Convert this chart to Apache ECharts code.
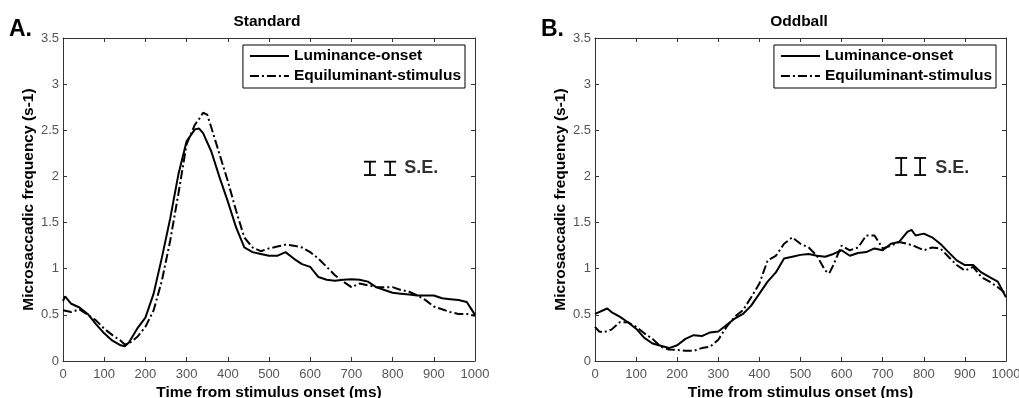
<!DOCTYPE html>
<html>
<head>
<meta charset="utf-8">
<script src="https://cdn.jsdelivr.net/npm/echarts@6/dist/echarts.min.js"></script>
<style>
  html, body { margin: 0; padding: 0; background: #fff; }
  #chart { width: 1019px; height: 398px; }
</style>
</head>
<body>
<div id="chart"></div>
<script>
// Standard condition (A)
var stdLumT = [0,5,20,40,60,80,100,120,140,150,160,180,200,220,240,260,280,300,320,330,340,360,380,400,420,440,460,480,500,520,540,560,580,600,620,640,660,680,700,720,740,760,780,800,820,840,860,880,900,920,940,960,980,990,1000];
var stdLumV = [0.65,0.70,0.62,0.58,0.51,0.40,0.30,0.22,0.17,0.16,0.20,0.35,0.47,0.73,1.12,1.54,2.02,2.38,2.51,2.52,2.47,2.27,1.99,1.73,1.45,1.23,1.18,1.16,1.14,1.14,1.18,1.11,1.05,1.02,0.91,0.88,0.87,0.88,0.885,0.88,0.86,0.80,0.77,0.74,0.73,0.72,0.71,0.71,0.71,0.68,0.67,0.66,0.64,0.57,0.50];
var stdEqT = [0,20,40,60,80,100,120,140,150,160,180,200,220,240,260,280,300,320,330,340,350,360,380,400,420,440,460,480,500,520,540,560,580,600,620,640,660,680,700,720,740,760,780,800,820,840,860,880,900,920,940,960,980,1000];
var stdEqV = [0.55,0.53,0.56,0.50,0.44,0.35,0.28,0.22,0.18,0.19,0.26,0.37,0.55,0.87,1.30,1.81,2.35,2.56,2.62,2.69,2.67,2.53,2.24,1.95,1.63,1.34,1.23,1.19,1.22,1.24,1.26,1.25,1.23,1.18,1.11,1.02,0.93,0.86,0.80,0.84,0.82,0.80,0.80,0.80,0.77,0.75,0.71,0.66,0.59,0.56,0.53,0.51,0.51,0.49];

// Oddball condition (B)
var oddLumT = [0,10,20,30,40,60,80,100,120,140,160,180,200,220,240,260,280,300,320,340,360,380,400,420,440,460,480,500,520,540,560,580,600,620,640,660,680,700,720,740,760,770,780,800,820,840,860,880,900,920,940,960,980,1000];
var oddLumV = [0.51,0.53,0.55,0.57,0.53,0.48,0.42,0.35,0.25,0.19,0.165,0.14,0.17,0.24,0.28,0.27,0.31,0.32,0.39,0.46,0.51,0.60,0.73,0.86,0.96,1.11,1.13,1.15,1.16,1.14,1.13,1.16,1.20,1.14,1.17,1.18,1.22,1.20,1.27,1.29,1.40,1.42,1.36,1.38,1.34,1.27,1.18,1.09,1.04,1.04,0.96,0.91,0.86,0.69];
var oddEqT = [0,10,20,40,60,80,100,120,140,160,180,200,220,240,260,280,300,320,340,360,380,400,420,440,460,480,500,520,540,560,570,580,600,620,640,660,680,700,720,740,760,780,800,820,840,860,880,900,920,940,960,980,1000];
var oddEqV = [0.37,0.32,0.31,0.34,0.42,0.42,0.37,0.30,0.24,0.155,0.125,0.12,0.11,0.11,0.14,0.155,0.23,0.37,0.48,0.55,0.69,0.84,1.09,1.14,1.27,1.34,1.27,1.23,1.14,0.98,0.95,1.04,1.25,1.20,1.23,1.36,1.36,1.22,1.25,1.29,1.27,1.24,1.20,1.23,1.22,1.13,1.04,0.98,1.02,0.91,0.86,0.80,0.73];

// S.E. markers: [x, low, high]
var seStd = [[745, 2.015, 2.16], [794, 2.015, 2.16]];
var seOdd = [[745, 2.015, 2.2], [791, 2.015, 2.2]];
var seLabelX = 828;
var seLabelY = 2.09;

var seriesNames = ['Luminance-onset', 'Equiluminant-stimulus'];
var font = 'Liberation Sans, Arial, sans-serif';

function zip(t, v) {
    return t.map(function (x, i) { return [x, v[i]]; });
}

function seRender(params, api) {
    var top = api.coord([api.value(0), api.value(2)]);
    var bot = api.coord([api.value(0), api.value(1)]);
    var st = { stroke: '#000', lineWidth: 1.8 };
    return {
        type: 'group',
        children: [
            { type: 'line', shape: { x1: top[0], y1: top[1], x2: bot[0], y2: bot[1] }, style: st },
            { type: 'line', shape: { x1: top[0] - 6, y1: top[1], x2: top[0] + 6, y2: top[1] }, style: st },
            { type: 'line', shape: { x1: bot[0] - 6, y1: bot[1], x2: bot[0] + 6, y2: bot[1] }, style: st }
        ]
    };
}

var grids = [
    { left: 63, top: 38, width: 412, height: 323, containLabel: false, outerBoundsMode: 'none' },
    { left: 595, top: 38, width: 411, height: 323, containLabel: false, outerBoundsMode: 'none' }
];

var tickLabel = { fontFamily: font, fontSize: 13, color: '#555' };
var nameStyle = { fontFamily: font, fontWeight: 'bold', fontSize: 15.5, color: '#000' };
var xAxes = [], yAxes = [];
grids.forEach(function (g, i) {
    xAxes.push({
        type: 'value', gridIndex: i, min: 0, max: 1000, interval: 100, position: 'bottom',
        name: 'Time from stimulus onset (ms)', nameLocation: 'middle', nameGap: 24,
        nameMoveOverlap: false,
        nameTextStyle: nameStyle,
        axisLine: { onZero: false, lineStyle: { color: '#333', width: 1 } },
        axisTick: { inside: true, length: 4, lineStyle: { color: '#333' } },
        axisLabel: Object.assign({ margin: 7, formatter: function (v) { return String(v); } }, tickLabel),
        splitLine: { show: false }
    });
    xAxes.push({
        type: 'value', gridIndex: i, min: 0, max: 1000, interval: 100, position: 'top',
        axisLine: { onZero: false, lineStyle: { color: '#333', width: 1 } },
        axisTick: { inside: true, length: 4, lineStyle: { color: '#333' } },
        axisLabel: { show: false }, splitLine: { show: false }
    });
    yAxes.push({
        type: 'value', gridIndex: i, min: 0, max: 3.5, interval: 0.5, position: 'left',
        name: 'Microsaccadic frequency (s-1)', nameLocation: 'middle', nameGap: 26,
        nameMoveOverlap: false,
        nameTextStyle: nameStyle,
        axisLine: { show: true, onZero: false, lineStyle: { color: '#333', width: 1 } },
        axisTick: { show: true, inside: true, length: 4, lineStyle: { color: '#333' } },
        axisLabel: Object.assign({ margin: 4 }, tickLabel),
        splitLine: { show: false }
    });
    yAxes.push({
        type: 'value', gridIndex: i, min: 0, max: 3.5, interval: 0.5, position: 'right',
        axisLine: { show: true, onZero: false, lineStyle: { color: '#333', width: 1 } },
        axisTick: { show: true, inside: true, length: 4, lineStyle: { color: '#333' } },
        axisLabel: { show: false }, splitLine: { show: false }
    });
});

function lineSeries(name, data, panel, dashed) {
    return {
        name: name, type: 'line', xAxisIndex: panel * 2, yAxisIndex: panel * 2,
        data: data, symbol: 'none', animation: false,
        itemStyle: { color: '#000' },
        lineStyle: { color: '#000', width: 2, type: dashed ? [9, 3, 2, 3] : 'solid' }
    };
}

var series = [
    lineSeries(seriesNames[0], zip(stdLumT, stdLumV), 0, false),
    lineSeries(seriesNames[1], zip(stdEqT, stdEqV), 0, true),
    lineSeries(seriesNames[0], zip(oddLumT, oddLumV), 1, false),
    lineSeries(seriesNames[1], zip(oddEqT, oddEqV), 1, true)
];

[seStd, seOdd].forEach(function (se, i) {
    series.push({
        type: 'custom', xAxisIndex: i * 2, yAxisIndex: i * 2, data: se,
        renderItem: seRender, silent: true, animation: false
    });
    series.push({
        type: 'scatter', xAxisIndex: i * 2, yAxisIndex: i * 2, symbolSize: 0,
        data: [[seLabelX, seLabelY]], silent: true, animation: false,
        label: {
            show: true, formatter: 'S.E.', position: 'right', distance: 0,
            fontFamily: font, fontWeight: 'bold', fontSize: 18, color: '#000'
        }
    });
});

var legendBase = {
    orient: 'vertical', top: 45, itemWidth: 39, itemHeight: 14, itemGap: 4,
    borderColor: '#000', borderWidth: 1, padding: [3, 4, 4, 6], backgroundColor: '#fff',
    itemStyle: { opacity: 0 },
    textStyle: { fontFamily: font, fontWeight: 'bold', fontSize: 15.5, color: '#000' },
    data: seriesNames, selectedMode: false
};

var option = {
    backgroundColor: '#fff',
    animation: false,
    grid: grids,
    xAxis: xAxes,
    yAxis: yAxes,
    legend: [
        Object.assign({}, legendBase, { right: 1019 - 465 }),
        Object.assign({}, legendBase, { right: 1019 - 996 })
    ],
    graphic: [
        { type: 'text', left: 9, top: 18, style: { text: 'A.', font: 'bold 23px ' + font, fill: '#000' } },
        { type: 'text', left: 541, top: 18, style: { text: 'B.', font: 'bold 23px ' + font, fill: '#000' } },
        { type: 'text', x: 267, y: 22, style: { text: 'Standard', font: 'bold 15.5px ' + font, fill: '#000', align: 'center', verticalAlign: 'middle' } },
        { type: 'text', x: 799, y: 22, style: { text: 'Oddball', font: 'bold 15.5px ' + font, fill: '#000', align: 'center', verticalAlign: 'middle' } }
    ],
    series: series
};

echarts.init(document.getElementById('chart')).setOption(option);
</script>
</body>
</html>
